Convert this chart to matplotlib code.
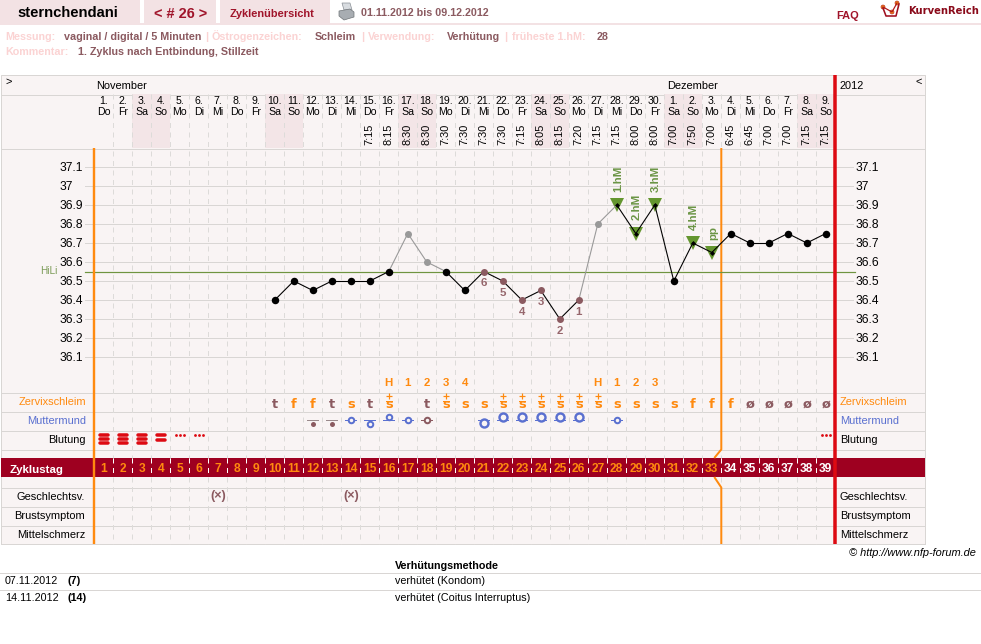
"""Zyklusblatt: Temperaturkurve mit Schleim, Muttermund und Blutung."""
import matplotlib
matplotlib.use("Agg")
import matplotlib.pyplot as plt
from matplotlib.patches import Rectangle, Polygon, Circle
from matplotlib.transforms import blended_transform_factory

plt.rcParams['font.family'] = ['Liberation Sans', 'DejaVu Sans']

# ---- data ----
days = list(range(1, 40))
dates = [str(d) for d in range(1, 31)] + [str(d) for d in range(1, 10)]
weekdays = ['Do', 'Fr', 'Sa', 'So', 'Mo', 'Di', 'Mi'] * 5 + ['Do', 'Fr', 'Sa', 'So']
weekend_days = [3, 4, 10, 11, 17, 18, 24, 25, 31, 32, 38, 39]
time_days = list(range(15, 40))
times = ['7:15', '8:15', '8:30', '8:30', '7:30', '7:30', '7:30', '7:30', '7:15',
         '8:05', '8:15', '7:20', '7:15', '7:15', '8:00', '8:00', '7:00', '7:50',
         '7:00', '6:45', '6:45', '7:00', '7:00', '7:15', '7:15']

temp_days = list(range(10, 40))
temps = [36.4, 36.5, 36.45, 36.5, 36.5, 36.5, 36.55, 36.75, 36.6, 36.55,
         36.45, 36.55, 36.5, 36.4, 36.45, 36.3, 36.4, 36.8, 36.9, 36.75,
         36.9, 36.5, 36.7, 36.65, 36.75, 36.7, 36.7, 36.75, 36.7, 36.75]
excluded_days = [17, 18, 27]
low_days = [21, 22, 23, 24, 25, 26]
low_labels = ['6', '5', '4', '3', '2', '1']
high_days = [28, 29, 30, 32, 33]
high_labels = ['1.hM', '2.hM', '3.hM', '4.hM', 'pp']
cover_line = 36.55
temp_ticks = [37.1, 37, 36.9, 36.8, 36.7, 36.6, 36.5, 36.4, 36.3, 36.2, 36.1]
temp_tick_labels = ['37.1', '37', '36.9', '36.8', '36.7', '36.6', '36.5', '36.4', '36.3', '36.2', '36.1']

mucus_days = [10, 11, 12, 13, 14, 15, 16, 18, 19, 20, 21, 22, 23, 24, 25, 26, 27,
              28, 29, 30, 31, 32, 33, 34, 35, 36, 37, 38, 39]
mucus = ['t', 'f', 'f', 't', 's', 't', 'S', 't', 'S', 's', 's', 'S', 'S', 'S', 'S', 'S', 'S',
         's', 's', 's', 's', 'f', 'f', 'f', 'ø', 'ø', 'ø', 'ø', 'ø']
peak_days = [16, 17, 18, 19, 20, 27, 28, 29, 30]
peak_labels = ['H', '1', '2', '3', '4', 'H', '1', '2', '3']

cervix_days = [12, 13, 14, 15, 16, 17, 18, 21, 22, 23, 24, 25, 26, 28]
cervix_kind = ['dot', 'dot', 'small', 'small', 'small', 'small', 'small',
               'large', 'large', 'large', 'large', 'large', 'large', 'small']
cervix_pos = [1, 1, 0, 1, -1, 0, 0, 1, -1, -1, -1, -1, -1, 0]
cervix_brown = [12, 13, 18]

bleed_bars_days = [1, 2, 3, 4]
bleed_bars = [3, 3, 3, 2]
bleed_spot_days = [5, 6, 39]
sex_days = [7, 14]
last_orange_day = 33

left_rows = ['Zervixschleim', 'Muttermund', 'Blutung', 'Geschlechtsv.', 'Brustsymptom', 'Mittelschmerz']
row_y = [405, 424, 443, 500, 519, 538]
row_lines = [392.5, 411.5, 430.5, 449.5, 487.5, 506.5, 525.5, 544]

# ---- colours ----
PANEL = '#f9f4f4'
WEEKEND = '#f3e5e7'
TAB = '#f3e2e4'
LINE = '#d9d6d4'
DASH = '#dddbd9'
BAND = '#9e0020'
DARKRED = '#a0142a'
ORANGE = '#ff8a0f'
RED = '#dd0a12'
BROWN = '#8b5a60'
PALE = '#fbd3d3'
GREEN = '#64962f'
BLUE = '#5a70d0'
GREY = '#999999'

fig = plt.figure(figsize=(9.81, 6.44), dpi=100)

# page axes in pixels, curve axes in cycle day / degrees on top of it
pg = fig.add_axes([0, 0, 1, 1])
pg.set_xlim(0, 981)
pg.set_ylim(644, 0)
pg.axis('off')

ax = fig.add_axes([0, 0, 1, 1])
ax.set_xlim(0.5 - 94.3 / 19, 0.5 + (981 - 94.3) / 19)
ax.set_ylim(37.1 - (644 - 167) / 190, 37.1 + 167 / 190)
ax.axis('off')
ax.patch.set_visible(False)

# x in cycle days, y in page pixels
rows = blended_transform_factory(ax.transData, pg.transData)
# x in page pixels, y in degrees
scale = blended_transform_factory(pg.transData, ax.transData)


def px(n):
    return n * 0.72


# ---- page head ----
for x0, x1 in [(0, 139.5), (144, 216), (220, 330)]:
    pg.add_patch(Rectangle((x0, 0), x1 - x0, 23, fc=TAB, ec='none'))
pg.add_patch(Rectangle((0, 23), 981, 2, fc=TAB, ec='none'))

pg.text(17, 17, 'sternchendani', fontsize=px(14.7), fontweight='bold', color='black')
pg.text(181, 18, '< # 26 >', fontsize=px(14.5), fontweight='bold', color=DARKRED, ha='center')
pg.text(230, 16.5, 'Zyklenübersicht', fontsize=px(11), fontweight='bold', color=DARKRED)
pg.text(361, 16, '01.11.2012 bis 09.12.2012', fontsize=px(10.8), fontweight='bold', color=BROWN)
pg.text(836, 18.5, 'FAQ', fontsize=px(11), fontweight='bold', color=DARKRED)
pg.text(908, 14, 'KurvenReich', fontsize=px(10), fontweight='bold', color='#8a0a1a', family='DejaVu Sans')

# printer icon
pg.add_patch(Polygon([(342, 3), (350, 3), (352, 10), (344, 10)], fc='#d8dce0', ec='#8a9096', lw=0.5))
pg.add_patch(Polygon([(339, 11), (350, 9), (354, 12), (354, 17), (344, 20), (339, 16)],
                     fc='#a8adb2', ec='#6f7478', lw=0.5))

# logo
pg.plot([883, 886, 896, 899], [8, 16, 16, 4], color='#a01020', lw=px(1.6))
pg.plot([883, 892, 897], [7, 12, 3], color='#b01818', lw=px(1.2))
for cx, cy in [(883, 7), (892, 12), (897, 3)]:
    pg.add_patch(Circle((cx, cy), 2, fc='#f28c1a', ec='#b01818', lw=0.4))

# info lines
info = [(5, 'Messung:', PALE), (64, 'vaginal / digital / 5 Minuten', BROWN), (205, '|', PALE),
        (212, 'Östrogenzeichen:', PALE), (315, 'Schleim', BROWN), (361, '|', PALE),
        (368, 'Verwendung:', PALE), (447, 'Verhütung', BROWN), (504, '|', PALE),
        (512, 'früheste 1.hM:', PALE), (597, '28', BROWN)]
for x, s, c in info:
    pg.text(x, 40, s, fontsize=px(10.7), fontweight='bold', color=c)
pg.text(5, 55, 'Kommentar:', fontsize=px(10.7), fontweight='bold', color=PALE)
pg.text(78, 55, '1. Zyklus nach Entbindung, Stillzeit', fontsize=px(10.7), fontweight='bold', color=BROWN)

# ---- table background ----
pg.add_patch(Rectangle((1, 75), 924, 469, fc=PANEL, ec=LINE, lw=px(1)))
for d in weekend_days:
    ax.add_patch(Rectangle((d - 0.5, 94), 1, 54, fc=WEEKEND, ec='none', transform=rows, zorder=1))
pg.add_patch(Rectangle((1, 458), 924, 19, fc=BAND, ec='none', zorder=3))

for y in [94.5, 148.5] + row_lines:
    pg.plot([1, 925], [y, y], color=LINE, lw=px(1), zorder=2)

# grid of the temperature field
for t in temp_ticks:
    ax.plot([85, 853], [t, t], color=LINE, lw=px(1), transform=scale, zorder=1.5, clip_on=False)

# day boundaries: dashed, white across the band
for d in days[:-1]:
    b = d + 0.5
    ax.plot([b, b], [94, 458], color=DASH, lw=px(1), ls=(0, (5, 4.5)), transform=rows, zorder=2)
    ax.plot([b, b], [477, 544], color=DASH, lw=px(1), ls=(0, (5, 4.5)), transform=rows, zorder=2)
    ax.plot([b, b], [458, 477], color='white', lw=px(1), ls=(0, (5, 4.5)), transform=rows, zorder=4)

# month row and date header
pg.text(5, 85, '>', fontsize=px(11), color='black')
pg.text(96, 89, 'November', fontsize=px(11), color='black')
pg.text(667, 89, 'Dezember', fontsize=px(11), color='black')
pg.text(840, 89, '2012', fontsize=px(11), color='black')
pg.text(916, 85, '<', fontsize=px(11), color='black')

for d, date, wd in zip(days, dates, weekdays):
    ax.text(d, 101, date + '.', fontsize=px(10.5), ha='center', va='center', transform=rows, zorder=5)
    ax.text(d, 111.5, wd, fontsize=px(10.5), ha='center', va='center', transform=rows, zorder=5)
for d, tm in zip(time_days, times):
    ax.text(d, 134.5, tm, fontsize=px(11), rotation=90, ha='center', va='center', transform=rows, zorder=5)

# ---- side labels ----
left_colors = [ORANGE, BLUE, 'black', 'black', 'black', 'black']
for s, y, c in zip(left_rows, row_y, left_colors):
    lx = 86 if s in ('Zervixschleim', 'Muttermund', 'Blutung') else 85
    pg.text(lx, y, s, fontsize=px(11), color=c, ha='right', zorder=5)
    pg.text(840, y, s, fontsize=px(11), color=c, ha='left', zorder=5)
pg.text(10, 472.5, 'Zyklustag', fontsize=px(11.5), fontweight='bold', color='white', zorder=5)

# ---- phase lines ----
ax.plot([0.5, 0.5], [148, 544], color=ORANGE, lw=px(2.4), transform=rows, zorder=6, solid_capstyle='butt')
ax.plot([39.5, 39.5], [75, 544], color=RED, lw=px(3.5), transform=rows, zorder=6, solid_capstyle='butt')
b = last_orange_day + 0.5
ax.plot([b, b, b - 0.37], [148, 449.5, 458], color=ORANGE, lw=px(2), transform=rows, zorder=3, solid_capstyle='butt')
ax.plot([b - 0.37, b, b], [477, 487.5, 544], color=ORANGE, lw=px(2), transform=rows, zorder=3, solid_capstyle='butt')

# ---- temperature curve ----
ax.plot([85, 855], [cover_line, cover_line], color='#6f9440', lw=px(1.2), transform=scale, zorder=3, clip_on=False)
pg.text(40, 270.7, 'HiLi', fontsize=px(10), color='#7a9a55', va='center', zorder=5)
for t, s in zip(temp_ticks, temp_tick_labels):
    for tx in (60, 856):
        ax.annotate(s, (tx, t), xycoords=scale, xytext=(0, px(-1)), textcoords='offset points',
                    fontsize=px(12), color='black', va='center', zorder=5)

for i in range(len(temp_days) - 1):
    d0, d1 = temp_days[i], temp_days[i + 1]
    c = GREY if d0 in excluded_days or d1 in excluded_days else 'black'
    ax.plot([d0, d1], [temps[i], temps[i + 1]], color=c, lw=px(1.1), zorder=7, solid_capstyle='round')

for d, t in zip(temp_days, temps):
    if d in excluded_days:
        ax.plot(d, t, 'o', color=GREY, ms=px(7), mew=0, zorder=8)
    elif d in low_days:
        ax.plot(d, t, 'o', color=BROWN, ms=px(7), mew=0, zorder=8)
    elif d in high_days:
        ax.plot(d, t, 'v', color=GREEN, ms=px(14), mew=0, zorder=6.5)
        ax.plot(d, t, 'D', color='black', ms=px(3.5), mew=0, zorder=8)
    else:
        ax.plot(d, t, 'o', color='black', ms=px(7.5), mew=0, zorder=8)

for d, s in zip(low_days, low_labels):
    ax.annotate(s, (d, temps[temp_days.index(d)]), xytext=(0, px(-12)), textcoords='offset points',
                fontsize=px(11.5), fontweight='bold', color='#96666c', ha='center', va='center', zorder=9)
for d, s in zip(high_days, high_labels):
    ax.annotate(s, (d, temps[temp_days.index(d)]), xytext=(px(1), px(13)), textcoords='offset points',
                fontsize=px(11.5), fontweight='bold', color='#6b9545', rotation=90, ha='center', va='bottom', zorder=9)

# ---- mucus row ----
for d, s in zip(peak_days, peak_labels):
    ax.text(d, 383, s, fontsize=px(11.5), fontweight='bold', color=ORANGE, ha='center', va='center', transform=rows, zorder=5)
for d, s in zip(mucus_days, mucus):
    c = BROWN if s in ('t', 'ø') else ORANGE
    ax.text(d, 408, s.lower(), fontsize=px(13), fontweight='bold', color=c, family='DejaVu Sans',
            ha='center', va='baseline', transform=rows, zorder=5)
    if s == 'S':
        ax.plot([d - 0.17, d + 0.17], [400.5, 400.5], color=ORANGE, lw=px(1), transform=rows, zorder=5)
        ax.plot([d], [395.7], '+', color=ORANGE, ms=px(6), mew=px(1.2), transform=rows, zorder=5)

# ---- cervix row ----
for d, kind, pos in zip(cervix_days, cervix_kind, cervix_pos):
    c = BROWN if d in cervix_brown else BLUE
    line_c = '#9a8a8c' if kind == 'dot' else c
    ax.plot([d - 0.29, d + 0.29], [420, 420], color=line_c, lw=px(1), transform=rows, zorder=5)
    offset = {'dot': 4, 'small': 3.5, 'large': 3}[kind] * pos
    if kind == 'dot':
        ax.plot([d], [420 + offset], 'o', color=BROWN, ms=px(5), mew=0, transform=rows, zorder=6)
    elif kind == 'small':
        ax.plot([d], [420 + offset], 'o', mfc=PANEL, mec=c, ms=px(5.5), mew=px(2), transform=rows, zorder=6)
    else:
        ax.plot([d], [420 + offset], 'o', mfc=PANEL, mec=c, ms=px(8), mew=px(2.4), transform=rows, zorder=6)

# ---- bleeding row ----
for d, n in zip(bleed_bars_days, bleed_bars):
    ys = [434.7, 439, 443.3] if n == 3 else [435.3, 439.7]
    for y in ys:
        ax.plot([d - 0.22, d + 0.22], [y, y], color=RED, lw=px(3.5), transform=rows, zorder=5, solid_capstyle='round')
for d in bleed_spot_days:
    ax.plot([d - 4 / 19, d, d + 4 / 19], [435.3] * 3, ls='none', marker='o', color=RED, ms=px(2.8), mew=0,
            transform=rows, zorder=5)

# ---- cycle day numbers ----
for d in days:
    c = ORANGE if d <= last_orange_day else 'white'
    ax.text(d, 468.5, str(d), fontsize=px(12), fontweight='bold', color=c, ha='center', va='center', transform=rows, zorder=7)

# ---- intercourse row ----
for d in sex_days:
    ax.text(d, 496, '(×)', fontsize=px(12.5), fontweight='bold', color=BROWN, ha='center', va='center',
            transform=rows, zorder=5)

# ---- contraception table ----
pg.text(976, 556, '© http://www.nfp-forum.de', fontsize=px(11), fontstyle='italic', color='black', ha='right')
pg.text(395, 569, 'Verhütungsmethode', fontsize=px(10.8), fontweight='bold', color='black')
pg.plot([0, 981], [572.5, 572.5], color=LINE, lw=px(1))
pg.plot([0, 981], [589.5, 589.5], color=LINE, lw=px(1))
table_dates = ['07.11.2012', '14.11.2012']
table_days = ['(7)', '(14)']
table_methods = ['verhütet (Kondom)', 'verhütet (Coitus Interruptus)']
for y, dt, dn, m in zip([584, 601], table_dates, table_days, table_methods):
    pg.text(5, y, dt, fontsize=px(10.8), color='black')
    pg.text(68, y, dn, fontsize=px(10.8), fontweight='bold', color='black')
    pg.text(395, y, m, fontsize=px(10.8), color='black')

fig.savefig('out.png', dpi=100)
